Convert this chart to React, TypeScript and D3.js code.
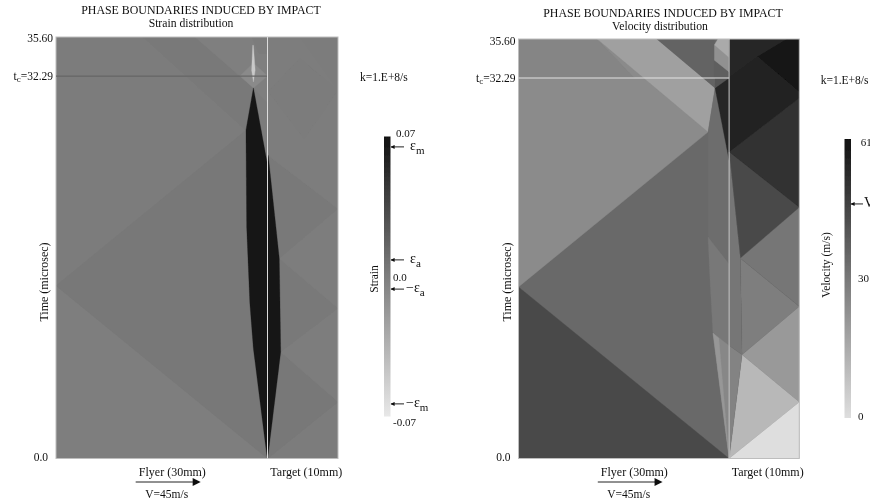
import React from 'react';
import * as d3 from 'd3';

type Pt = [number, number];
type Region = { value: number; points: Pt[] };

const titleText = 'PHASE BOUNDARIES INDUCED BY IMPACT';
const timeTicks = ['35.60', '32.29', '0.0'];
const criticalTime = 32.29;

// strain field, painted back to front. x in mm from the interface, y in microsec, value = strain
const strainFlyer: Region[] = [
  { value: 0.0004, points: [[-30, 0], [0, 0], [0, 35.6], [-30, 35.6]] },
  { value: -0.0012, points: [[-30, 0], [0, 0], [-30, 14.6]] },
  { value: 0.0032, points: [[-30, 14.6], [0, 0], [0, 20], [-3.1, 27.7]] },
  { value: 0.002, points: [[-17.7, 35.6], [-10.3, 35.6], [-2, 31.3], [-3.1, 27.7]] },
  { value: -0.0016, points: [[-10.3, 35.6], [0, 35.6], [0, 30], [-2, 31.3]] },
  { value: 0.001, points: [[-2.2, 35.6], [0, 35.6], [0, 34.2], [-1.2, 34.2]] },
  { value: -0.0088, points: [[-2, 33.4], [0, 32.3], [-2, 31.3], [-3.9, 32.3]] },
  { value: -0.05, points: [[-2.1, 34.9], [-2, 34.9], [-1.75, 32.8], [-2, 31.8], [-2.25, 32.8]] },
];
const strainTarget: Region[] = [
  { value: 0.001, points: [[0, 0], [10, 0], [10, 35.6], [0, 35.6]] },
  { value: 0.003, points: [[0, 0], [10, 4.8], [1.87, 9]] },
  { value: -0.0003, points: [[1.87, 9], [10, 4.8], [10, 12.7]] },
  { value: 0.002, points: [[1.87, 9], [10, 12.7], [1.67, 16.9]] },
  { value: -0.0003, points: [[1.67, 16.9], [10, 12.7], [10, 21.1]] },
  { value: 0.0026, points: [[1.67, 16.9], [10, 21.1], [0.1, 25.6]] },
  { value: -0.0002, points: [[0.1, 25.6], [10, 21.1], [10, 31.1], [4.6, 35.6], [0, 35.6]] },
  { value: 0.0008, points: [[4.6, 33.8], [10, 31.1], [5.2, 27], [0.1, 31]] },
];
// transformed (high strain) band on both sides of the interface
const strainBand: Region[] = [
  { value: 0.068, points: [[-2, 31.3], [-3.05, 27.75], [-2.95, 19.55], [-2.5, 13.1], [-2, 9.3], [-0.1, 0.3], [0, 0], [0, 24.8]] },
  { value: 0.068, points: [[0.02, 0], [1.87, 9], [1.67, 16.9], [0.1, 25.6], [0.02, 25.6]] },
];

// velocity field in m/s, same x and y units
const velocityFlyer: Region[] = [
  { value: 34.8, points: [[-30, 0], [0, 0], [0, 35.6], [-30, 35.6]] },
  { value: 44, points: [[-30, 0], [0, 0], [-30, 14.56]] },
  { value: 24.6, points: [[-30, 14.56], [-3, 27.7], [-18.8, 35.6], [-30, 35.6]] },
  { value: 26.6, points: [[-30, 32.29], [-30, 35.6], [-18.8, 35.6], [-13.5, 32.29]] },
  { value: 18.5, points: [[-18.8, 35.6], [-10.3, 35.6], [-2, 31.45], [-3, 27.7]] },
  { value: 36.3, points: [[-10.3, 35.6], [-2.1, 35.6], [-2.1, 32.29], [-2, 31.45]] },
  { value: 33.5, points: [[-3, 27.7], [-2, 31.45], [0, 25.3], [0, 16.5], [-3, 18.8]] },
  { value: 30.5, points: [[-3, 18.8], [0, 16.5], [0, 9.6], [-2.3, 10.65], [-2.7, 14.9]] },
  { value: 26, points: [[-2.3, 10.65], [0, 9.6], [0, 0]] },
  { value: 21, points: [[-2.3, 10.65], [-1.45, 10.2], [0, 0]] },
  { value: 54.8, points: [[-2, 31.45], [0, 32.5], [0, 25.3]] },
  { value: 40.8, points: [[-2, 31.45], [0, 32.29], [-2, 32.29]] },
  { value: 38, points: [[-2.1, 33.8], [0, 32.8], [0, 32.29], [-2.1, 32.29]] },
  { value: 23, points: [[-2.1, 35.1], [0, 34], [0, 32.8], [-2.1, 33.8]] },
  { value: 15.5, points: [[-2.1, 35.1], [-1.6, 35.6], [0, 35.6], [0, 34]] },
];
const velocityTarget: Region[] = [
  { value: 55, points: [[0, 0], [10, 0], [10, 35.6], [0, 35.6]] },
  { value: 54.5, points: [[0, 35.6], [8.3, 35.6], [4.1, 34.1], [0, 32.3]] },
  { value: 60, points: [[8.3, 35.6], [10, 35.6], [10, 31.1], [4.1, 34.1]] },
  { value: 55.5, points: [[0, 32.3], [4.1, 34.1], [10, 31.1], [10, 30.6], [0, 26]] },
  { value: 51.5, points: [[0, 26], [10, 30.6], [10, 21.3]] },
  { value: 44, points: [[0, 26], [10, 21.3], [1.6, 17]] },
  { value: 31, points: [[1.6, 17], [10, 21.3], [10, 12.9]] },
  { value: 28.6, points: [[1.6, 17], [10, 12.9], [1.85, 8.8]] },
  { value: 20.5, points: [[1.85, 8.8], [10, 12.9], [10, 4.8]] },
  { value: 11.3, points: [[0, 0], [1.85, 8.8], [10, 4.8]] },
  { value: 0, points: [[0, 0], [10, 4.8], [10, 0]] },
  { value: 31, points: [[0, 9.6], [1.85, 8.8], [1.6, 17], [0, 26]] },
  { value: 27, points: [[0, 0], [1.85, 8.8], [0, 9.6]] },
];

const strainColor = d3.scaleLinear<string>().domain([-0.07, 0.07]).range(['#e8e8e8', '#111111']);
const velocityColor = d3.scaleLinear<string>().domain([0, 61]).range(['#dedede', '#111111']);

type Marker = { value: number; label: string; sub?: string; x: number };
const strainMarkers: Marker[] = [
  { value: 0.0648, label: 'ε', sub: 'm', x: 410 },
  { value: 0.0083, label: 'ε', sub: 'a', x: 410 },
  { value: -0.0063, label: '−ε', sub: 'a', x: 406 },
  { value: -0.0637, label: '−ε', sub: 'm', x: 406 },
];
const velocityMarkers: Marker[] = [{ value: 46.8, label: 'V', x: 864 }];

const serif = '"Liberation Serif", serif';

function ColorBar({ id, color, domain, x, y0, y1 }: any) {
  const stops = d3.range(0, 1.001, 0.1);
  const value = d3.scaleLinear().domain([0, 1]).range(domain);
  return (
    <g>
      <defs>
        <linearGradient id={id} x1="0" y1="1" x2="0" y2="0">
          {stops.map((s: number) => <stop key={s} offset={s} stopColor={color(value(s))} />)}
        </linearGradient>
      </defs>
      <rect x={x} y={y0} width={6.5} height={y1 - y0} fill={`url(#${id})`} />
    </g>
  );
}

function Panel({ regions, color, xRange, yRange, offsetTitle, tcColor, lineColor, fieldBlur }: any) {
  const x = d3.scaleLinear().domain([-30, 10]).range(xRange);
  const y = d3.scaleLinear().domain([0, 35.6]).range(yRange);
  const line = d3.line<Pt>().x(d => x(d[0])).y(d => y(d[1]));
  const clip = `clip${xRange[0]}`;
  return (
    <g>
      <defs>
        <clipPath id={clip}>
          <rect x={xRange[0]} y={yRange[1]} width={xRange[1] - xRange[0]} height={yRange[0] - yRange[1]} />
        </clipPath>
      </defs>
      <g clipPath={`url(#${clip})`}>
        <g filter={fieldBlur}>
          {regions.map((r: Region, i: number) => (
            <path key={i} d={line(r.points)! + 'Z'} fill={color(r.value)} stroke={color(r.value)} strokeWidth={0.3} />
          ))}
        </g>
      </g>
      <rect x={xRange[0]} y={yRange[1]} width={xRange[1] - xRange[0]} height={yRange[0] - yRange[1]} fill="none" stroke="#bdbdbd" strokeWidth={1} />
      <line x1={x(-30)} x2={x(0)} y1={y(criticalTime)} y2={y(criticalTime)} stroke={tcColor} strokeWidth={1.2} />
      <line x1={x(0)} x2={x(0)} y1={y(0)} y2={y(35.6)} stroke={lineColor} strokeWidth={1} />
      <text x={x(-30) - 3} y={y(35.6) + offsetTitle} textAnchor="end" fontSize={11.5}>{timeTicks[0]}</text>
      <text x={x(-30) - 3} y={y(criticalTime) + 4} textAnchor="end" fontSize={11.5}>
        t<tspan fontSize={9} dy={2}>c</tspan><tspan dy={-2}>={timeTicks[1]}</tspan>
      </text>
      <text x={x(-30) - 8} y={y(0) + 2} textAnchor="end" fontSize={11.5}>{timeTicks[2]}</text>
      <text transform={`translate(${x(-30) - 8},282) rotate(-90)`} textAnchor="middle" fontSize={12}>Time (microsec)</text>
      <text x={x(-13.5)} y={476} textAnchor="middle" fontSize={12}>Flyer (30mm)</text>
      <text x={x(5.5)} y={476} textAnchor="middle" fontSize={12}>Target (10mm)</text>
      <line x1={x(-18.7)} x2={x(-10.5)} y1={482} y2={482} stroke="#222" strokeWidth={1} markerEnd="url(#bigArrow)" />
      <text x={x(-14.3)} y={497.5} textAnchor="middle" fontSize={11.5}>V=45m/s</text>
    </g>
  );
}

function Callouts({ markers, scale, x0, x1 }: any) {
  return markers.map((m: Marker) => (
    <g key={m.label + m.sub}>
      <line x1={x1} x2={x0} y1={scale(m.value)} y2={scale(m.value)} stroke="#222" strokeWidth={1} markerEnd="url(#smallArrow)" />
      <text x={m.x} y={scale(m.value) + 3} fontSize={14}>
        {m.label}{m.sub ? <tspan fontSize={11} dy={4}>{m.sub}</tspan> : null}
      </text>
    </g>
  ));
}

export default function App() {
  const strainBar = d3.scaleLinear().domain([-0.07, 0.07]).range([416.5, 136.5]);
  const velocityBar = d3.scaleLinear().domain([0, 61]).range([418, 139]);
  return (
    <svg width={870} height={500} style={{ position: 'absolute', left: 0, top: 0 }} fontFamily={serif} fill="#111">
      <defs>
        <filter id="soft" x="0" y="0" width="100%" height="100%">
          <feGaussianBlur stdDeviation={0.4} />
        </filter>
        <filter id="softer" x="0" y="0" width="100%" height="100%">
          <feGaussianBlur stdDeviation={0.7} />
        </filter>
        <marker id="bigArrow" viewBox="0 0 10 10" refX={1} refY={5} markerWidth={10} markerHeight={8} markerUnits="userSpaceOnUse" orient="auto">
          <path d="M0,0L10,5L0,10Z" fill="#111" />
        </marker>
        <marker id="smallArrow" viewBox="0 0 10 10" refX={9} refY={5} markerWidth={6} markerHeight={4} markerUnits="userSpaceOnUse" orient="auto">
          <path d="M0,0L10,5L0,10Z" fill="#111" />
        </marker>
      </defs>
      <rect width={870} height={500} fill="#fff" />
      <g filter="url(#soft)">
        <text x={201} y={14} textAnchor="middle" fontSize={11.9}>{titleText}</text>
        <text x={191} y={27} textAnchor="middle" fontSize={11.7}>Strain distribution</text>
        <Panel regions={[...strainFlyer, ...strainTarget, ...strainBand]} color={strainColor} xRange={[56, 338]} yRange={[458.5, 37]} offsetTitle={5} tcColor="#666" lineColor="#dcdcdc" fieldBlur="url(#softer)" />
        <text x={360} y={81} fontSize={11.5}>k=1.E+8/s</text>
        <ColorBar id="strainGrad" color={strainColor} domain={[-0.07, 0.07]} x={384} y0={136.5} y1={416.5} />
        <text transform="translate(378,279) rotate(-90)" textAnchor="middle" fontSize={11.5}>Strain</text>
        <text x={396} y={137} fontSize={11}>0.07</text>
        <text x={393} y={281} fontSize={11}>0.0</text>
        <text x={393} y={426} fontSize={11}>-0.07</text>
        <Callouts markers={strainMarkers} scale={strainBar} x0={391} x1={404} />

        <text x={663} y={17} textAnchor="middle" fontSize={11.9}>{titleText}</text>
        <text x={660} y={30} textAnchor="middle" fontSize={11.7}>Velocity distribution</text>
        <Panel regions={[...velocityFlyer, ...velocityTarget]} color={velocityColor} xRange={[518.5, 799.3]} yRange={[458.5, 39]} offsetTitle={6} tcColor="#e4e4e4" lineColor="#d0d0d0" />
        <text x={820.7} y={84} fontSize={11.5}>k=1.E+8/s</text>
        <ColorBar id="velocityGrad" color={velocityColor} domain={[0, 61]} x={844.5} y0={139} y1={418} />
        <text transform="translate(830,265) rotate(-90)" textAnchor="middle" fontSize={11.5}>Velocity (m/s)</text>
        <text x={860.7} y={146} fontSize={11}>61</text>
        <text x={858} y={282} fontSize={11}>30</text>
        <text x={858} y={420} fontSize={11}>0</text>
        <Callouts markers={velocityMarkers} scale={velocityBar} x0={851} x1={863} />
      </g>
    </svg>
  );
}
